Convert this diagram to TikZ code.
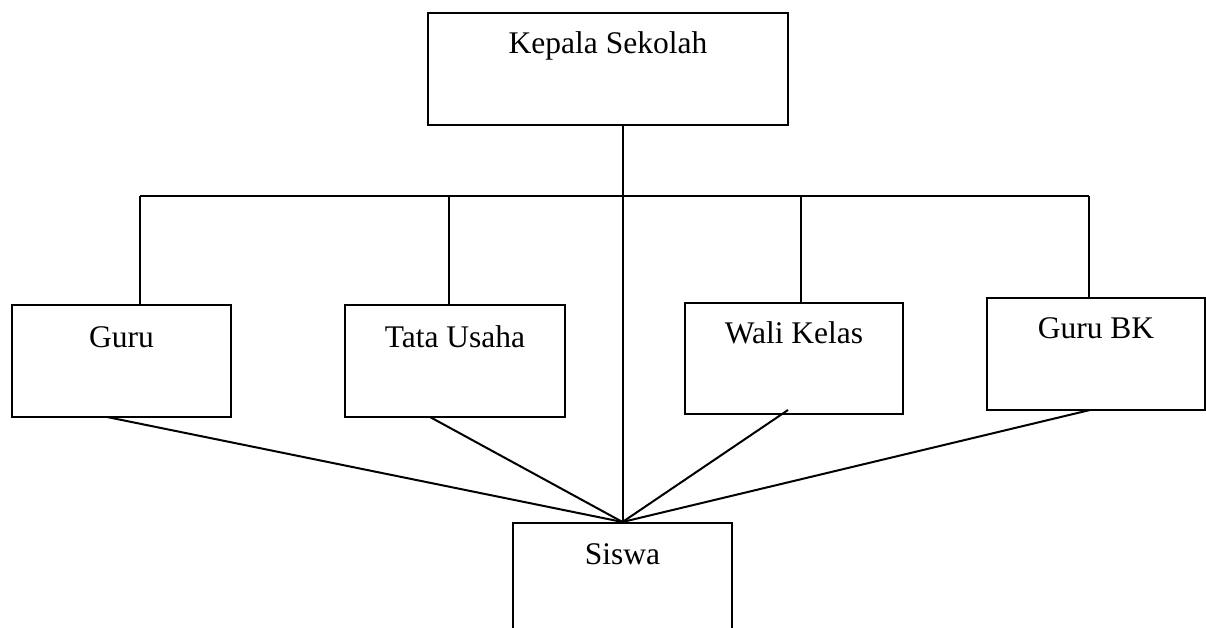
\documentclass[tikz,border=0pt]{standalone}
\usepackage{fontspec}
\setmainfont{Liberation Serif}
\begin{document}
\begin{tikzpicture}[x=1pt,y=-1pt,
  box/.style={draw=black,line width=2pt,rectangle,inner sep=0pt,minimum height=112pt},
  lbl/.style={anchor=base,inner sep=0pt,font=\fontsize{31.5}{38}\selectfont},
  conn/.style={draw=black,line width=2pt}]
\useasboundingbox (0,0) rectangle (1206,628);
\clip (0,0) rectangle (1206,628);
% boxes
\node[box,minimum width=360pt] (kepala) at (608,69) {};
\node[box,minimum width=219pt] (guru) at (121.5,361) {};
\node[box,minimum width=220pt] (tu) at (455,361) {};
\node[box,minimum width=218pt,minimum height=111pt] (wali) at (794,358.5) {};
\node[box,minimum width=218pt] (bk) at (1096,354) {};
\node[box,minimum width=219pt,minimum height=140pt] (siswa) at (622.5,593) {};
% labels
\node[lbl] (tKepala) at (608,54) {Kepala Sekolah};
\node[lbl] (tGuru) at (121.5,347) {Guru};
\node[lbl] (tTu) at (455,347) {Tata Usaha};
\node[lbl] (tWali) at (794,343) {Wali Kelas};
\node[lbl] (tBk) at (1096,338) {Guru BK};
\node[lbl] (tSiswa) at (622.5,564) {Siswa};
% bus
\coordinate (bl) at (140,196);
\coordinate (br) at (1089,196);
\coordinate (tuD) at (449,196);
\coordinate (waD) at (801,196);
\coordinate (wS) at (788,410);
\coordinate (gS) at (107,417);
\coordinate (tS) at (430,417);
\coordinate (bS) at (1090,410);
\draw[conn] (kepala.south -| siswa.north) -- (siswa.north);
\draw[conn] (bl) -- (br);
\draw[conn] (bl) -- (bl |- guru.north);
\draw[conn] (tuD) -- (tuD |- tu.north);
\draw[conn] (waD) -- (waD |- wali.north);
\draw[conn] (br) -- (br |- bk.north);
% to siswa
\draw[conn] (gS) -- (siswa.north);
\draw[conn] (tS) -- (siswa.north);
\draw[conn] (wS) -- (siswa.north);
\draw[conn] (bS) -- (siswa.north);
\end{tikzpicture}
\end{document}
